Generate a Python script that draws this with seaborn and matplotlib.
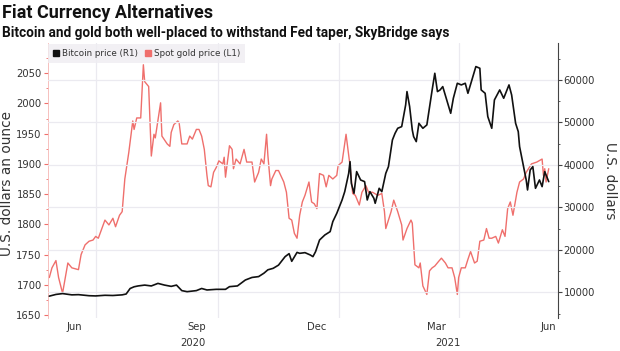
import pandas as pd
import matplotlib.pyplot as plt
import matplotlib.dates as mdates
from matplotlib.lines import Line2D
from matplotlib.ticker import FixedLocator
import seaborn as sns

# spot gold, USD per ounce (left axis)
gold_dates = [
    '2020-05-27', '2020-05-29', '2020-06-01', '2020-06-03', '2020-06-06', '2020-06-10', '2020-06-13',
    '2020-06-18', '2020-06-20', '2020-06-23', '2020-06-26', '2020-06-29', '2020-07-01', '2020-07-03',
    '2020-07-08', '2020-07-11', '2020-07-14', '2020-07-16', '2020-07-19', '2020-07-21', '2020-07-23',
    '2020-07-26', '2020-07-29', '2020-07-30', '2020-08-01', '2020-08-04', '2020-08-06', '2020-08-07',
    '2020-08-10', '2020-08-12', '2020-08-14', '2020-08-15', '2020-08-19', '2020-08-20', '2020-08-24',
    '2020-08-26', '2020-08-27', '2020-08-29', '2020-09-01', '2020-09-02', '2020-09-04', '2020-09-08',
    '2020-09-10', '2020-09-12', '2020-09-15', '2020-09-17', '2020-09-19', '2020-09-21', '2020-09-23',
    '2020-09-24', '2020-09-26', '2020-09-28', '2020-09-30', '2020-10-02', '2020-10-05', '2020-10-06',
    '2020-10-07', '2020-10-10', '2020-10-12', '2020-10-13', '2020-10-15', '2020-10-18', '2020-10-21',
    '2020-10-23', '2020-10-27', '2020-10-29', '2020-11-01', '2020-11-03', '2020-11-05', '2020-11-07',
    '2020-11-08', '2020-11-10', '2020-11-11', '2020-11-14', '2020-11-16', '2020-11-20', '2020-11-22',
    '2020-11-24', '2020-11-26', '2020-11-28', '2020-11-30', '2020-12-02', '2020-12-04', '2020-12-06',
    '2020-12-09', '2020-12-11', '2020-12-13', '2020-12-15', '2020-12-17', '2020-12-20', '2020-12-22',
    '2020-12-24', '2020-12-27', '2020-12-30', '2020-12-31', '2021-01-03', '2021-01-06', '2021-01-08',
    '2021-01-09', '2021-01-11', '2021-01-13', '2021-01-16', '2021-01-18', '2021-01-21', '2021-01-23',
    '2021-01-26', '2021-01-30', '2021-02-02', '2021-02-04', '2021-02-05', '2021-02-09', '2021-02-11',
    '2021-02-14', '2021-02-17', '2021-02-18', '2021-02-21', '2021-02-24', '2021-02-25', '2021-02-27',
    '2021-03-02', '2021-03-03', '2021-03-05', '2021-03-08', '2021-03-10', '2021-03-12', '2021-03-14',
    '2021-03-17', '2021-03-19', '2021-03-22', '2021-03-24', '2021-03-27', '2021-03-29', '2021-03-31',
    '2021-04-01', '2021-04-03', '2021-04-06', '2021-04-08', '2021-04-10', '2021-04-13', '2021-04-15',
    '2021-04-17', '2021-04-20', '2021-04-22', '2021-04-24', '2021-04-26', '2021-04-29', '2021-05-01',
    '2021-05-04', '2021-05-06', '2021-05-08', '2021-05-10', '2021-05-12', '2021-05-15', '2021-05-17',
    '2021-05-20', '2021-05-22', '2021-05-26', '2021-05-30', '2021-06-03', '2021-06-04', '2021-06-05',
    '2021-06-06', '2021-06-08',
]
gold_prices = [
    1712, 1728, 1740, 1712, 1686, 1736, 1728,
    1725, 1750, 1766, 1772, 1774, 1780, 1777,
    1807, 1799, 1810, 1796, 1815, 1821, 1875,
    1919, 1971, 1957, 1976, 1976, 2064, 2036,
    2028, 1913, 1949, 1943, 2001, 1946, 1933,
    1929, 1952, 1965, 1971, 1968, 1933, 1933,
    1946, 1941, 1957, 1957, 1946, 1924, 1881,
    1864, 1862, 1886, 1894, 1905, 1900, 1911,
    1878, 1930, 1924, 1892, 1908, 1900, 1924,
    1903, 1903, 1870, 1886, 1908, 1900, 1949,
    1914, 1864, 1875, 1889, 1889, 1870, 1853,
    1810, 1807, 1785, 1777, 1815, 1837, 1848,
    1870, 1837, 1834, 1826, 1884, 1881, 1862,
    1881, 1875, 1881, 1897, 1903, 1949, 1914,
    1897, 1851, 1848, 1832, 1853, 1864, 1853,
    1853, 1848, 1851, 1821, 1793, 1821, 1840,
    1821, 1799, 1774, 1793, 1807, 1802, 1733,
    1728, 1736, 1698, 1684, 1723, 1728, 1731,
    1739, 1744, 1736, 1728, 1728, 1712, 1684,
    1712, 1728, 1728, 1742, 1755, 1736, 1739,
    1772, 1774, 1793, 1777, 1777, 1780, 1769,
    1791, 1780, 1826, 1837, 1815, 1853, 1870,
    1875, 1886, 1900, 1903, 1908, 1881, 1892,
    1870, 1892,
]

# bitcoin, USD (right axis)
btc_dates = [
    '2020-05-27', '2020-06-01', '2020-06-06', '2020-06-13', '2020-06-18', '2020-06-26', '2020-07-01',
    '2020-07-08', '2020-07-14', '2020-07-21', '2020-07-24', '2020-07-27', '2020-07-30', '2020-08-02',
    '2020-08-07', '2020-08-12', '2020-08-17', '2020-08-22', '2020-08-27', '2020-08-31', '2020-09-04',
    '2020-09-08', '2020-09-15', '2020-09-19', '2020-09-23', '2020-09-30', '2020-10-07', '2020-10-10',
    '2020-10-16', '2020-10-22', '2020-10-27', '2020-11-01', '2020-11-05', '2020-11-08', '2020-11-12',
    '2020-11-16', '2020-11-21', '2020-11-24', '2020-11-26', '2020-11-30', '2020-12-02', '2020-12-06',
    '2020-12-10', '2020-12-12', '2020-12-14', '2020-12-17', '2020-12-21', '2020-12-25', '2020-12-27',
    '2020-12-30', '2021-01-03', '2021-01-05', '2021-01-08', '2021-01-09', '2021-01-10', '2021-01-12',
    '2021-01-14', '2021-01-17', '2021-01-20', '2021-01-22', '2021-01-24', '2021-01-27', '2021-01-28',
    '2021-01-31', '2021-02-02', '2021-02-05', '2021-02-07', '2021-02-10', '2021-02-12', '2021-02-14',
    '2021-02-17', '2021-02-20', '2021-02-21', '2021-02-23', '2021-02-25', '2021-02-26', '2021-02-28',
    '2021-03-02', '2021-03-05', '2021-03-08', '2021-03-12', '2021-03-14', '2021-03-16', '2021-03-18',
    '2021-03-20', '2021-03-23', '2021-03-26', '2021-03-28', '2021-03-31', '2021-04-03', '2021-04-06',
    '2021-04-08', '2021-04-11', '2021-04-14', '2021-04-17', '2021-04-18', '2021-04-21', '2021-04-23',
    '2021-04-26', '2021-04-28', '2021-05-02', '2021-05-05', '2021-05-09', '2021-05-11', '2021-05-14',
    '2021-05-16', '2021-05-17', '2021-05-20', '2021-05-21', '2021-05-22', '2021-05-23', '2021-05-25',
    '2021-05-27', '2021-05-29', '2021-06-01', '2021-06-03', '2021-06-05', '2021-06-08',
]
btc_prices = [
    9100, 9500, 9700, 9400, 9450, 9200, 9150,
    9300, 9250, 9400, 9600, 10900, 11300, 11500,
    11700, 11500, 12100, 11700, 11400, 11700, 10400,
    10150, 10400, 10900, 10550, 10700, 10700, 11330,
    11500, 12900, 13500, 13700, 14500, 15300, 15650,
    16400, 18400, 19100, 17300, 19400, 19180, 19340,
    18790, 18400, 19580, 22320, 23500, 24290, 26640,
    28600, 31740, 33700, 38020, 40770, 35670, 33310,
    38420, 36450, 36060, 31740, 33700, 32140, 30960,
    34490, 33700, 38020, 39590, 45870, 47440, 48620,
    49010, 54120, 57260, 53720, 48230, 46660, 45480,
    49800, 48620, 49410, 57650, 61570, 57260, 57650,
    58430, 55290, 52150, 55690, 59220, 58830, 59220,
    56860, 60000, 63150, 62750, 57650, 56860, 51370,
    48620, 55290, 57650, 55690, 58830, 56470, 49800,
    47840, 44310, 39590, 38020, 36450, 34100, 38810,
    39590, 34490, 36450, 34880, 38420, 36060,
]

gold_ticks = [1650, 1700, 1750, 1800, 1850, 1900, 1950, 2000, 2050]
btc_ticks = [10000, 20000, 30000, 40000, 50000, 60000]
month_labels = ['Jun', 'Sep', 'Dec', 'Mar', 'Jun']
month_label_dates = ['2020-06-15', '2020-09-15', '2020-12-15', '2021-03-15', '2021-06-08']
quarter_dates = ['2020-07-01', '2020-10-01', '2021-01-01', '2021-04-01']
year_labels = ['2020', '2021']
year_label_dates = ['2020-09-12', '2021-03-24']

GOLD = '#ef6f6c'
BTC = '#111111'
TXT = '#333333'
GRID = '#ebeaf0'
TITLE_FONT = ['Roboto', 'DejaVu Sans']

sns.set_style('white')
plt.rcParams['font.family'] = ['DejaVu Sans']

gold = pd.DataFrame({'date': pd.to_datetime(gold_dates), 'price': gold_prices})
btc = pd.DataFrame({'date': pd.to_datetime(btc_dates), 'price': btc_prices})

fig = plt.figure(figsize=(6.2, 3.51), dpi=100)
ax = fig.add_axes([0.0774, 0.094, 0.8226, 0.7835])
ax2 = ax.twinx()

sns.lineplot(data=gold, x='date', y='price', ax=ax, color=GOLD, lw=1.0)
sns.lineplot(data=btc, x='date', y='price', ax=ax2, color=BTC, lw=1.2)

ax.set_xlim(pd.Timestamp('2020-05-26'), pd.Timestamp('2021-06-15'))
ax.set_ylim(1645, 2100)
ax2.set_ylim(3950, 68700)

# x axis: month labels mid-month, grid at quarter starts
ax.set_xticks(pd.to_datetime(month_label_dates))
ax.set_xticklabels(month_labels)
ax.xaxis.set_minor_locator(FixedLocator(mdates.date2num(pd.to_datetime(quarter_dates))))
ax.tick_params(axis='x', which='both', length=0, pad=3, labelsize=7.2, labelcolor=TXT)
ax.grid(axis='x', which='minor', color=GRID, lw=0.9)
ax.grid(axis='x', which='major', visible=False)
for d, lab in zip(year_label_dates, year_labels):
    ax.text(mdates.date2num(pd.Timestamp(d)), -0.092, lab, transform=ax.get_xaxis_transform(),
            ha='center', va='center', fontsize=7.2, color=TXT)

# left axis (gold)
ax.set_yticks(gold_ticks)
ax.yaxis.set_minor_locator(FixedLocator(range(1650, 2100, 25)))
ax.tick_params(axis='y', which='major', length=3, width=0.8, color=GOLD, labelsize=7.2,
               labelcolor=TXT, pad=1.5)
ax.tick_params(axis='y', which='minor', length=1.5, width=0.6, color=GOLD)
ax.grid(axis='y', visible=False)
ax.set_ylabel('U.S. dollars an ounce', fontsize=9.8, color=TXT)
ax.yaxis.set_label_coords(-0.066, 0.49)
ax.set_xlabel('')

# right axis (bitcoin)
ax2.set_yticks(btc_ticks)
ax2.yaxis.set_minor_locator(FixedLocator(range(5000, 68000, 5000)))
ax2.tick_params(axis='y', which='major', length=3, width=0.8, color='#444444', labelsize=7.2,
                labelcolor=TXT, pad=1)
ax2.tick_params(axis='y', which='minor', length=1.5, width=0.6, color='#444444')
ax2.grid(axis='y', which='major', color=GRID, lw=0.9)
ax2.set_ylabel('U.S. dollars', fontsize=9.8, color=TXT, rotation=-90, labelpad=16)

for s in ['top', 'bottom', 'right']:
    ax.spines[s].set_visible(False)
ax.spines['left'].set_color('#f5b5b3')
ax.spines['left'].set_linewidth(0.6)
for s in ['top', 'bottom', 'left']:
    ax2.spines[s].set_visible(False)
ax2.spines['right'].set_color('#444444')
ax2.spines['right'].set_linewidth(0.8)

handles = [
    Line2D([], [], marker='s', ls='none', color=BTC, markersize=4.5),
    Line2D([], [], marker='s', ls='none', color=GOLD, markersize=4.5),
]
leg = ax2.legend(handles, ['Bitcoin price (R1)', 'Spot gold price (L1)'], loc='upper left',
                 bbox_to_anchor=(0.0, 0.995), ncol=2, fontsize=6.3, frameon=True, fancybox=False,
                 borderaxespad=0, borderpad=0.55, handlelength=0.7, handletextpad=0.3,
                 columnspacing=0.9)
leg.get_frame().set_facecolor('#efedf2')
leg.get_frame().set_edgecolor('none')
for t in leg.get_texts():
    t.set_color(TXT)

fig.text(0.004, 0.99, 'Fiat Currency Alternatives', ha='left', va='top', fontsize=13,
         fontweight='bold', color='#111111', family=TITLE_FONT)
fig.text(0.004, 0.925, 'Bitcoin and gold both well-placed to withstand Fed taper, SkyBridge says',
         ha='left', va='top', fontsize=9.8, fontweight='bold', color='#111111', family=TITLE_FONT)

fig.savefig('out.png', dpi=100)
